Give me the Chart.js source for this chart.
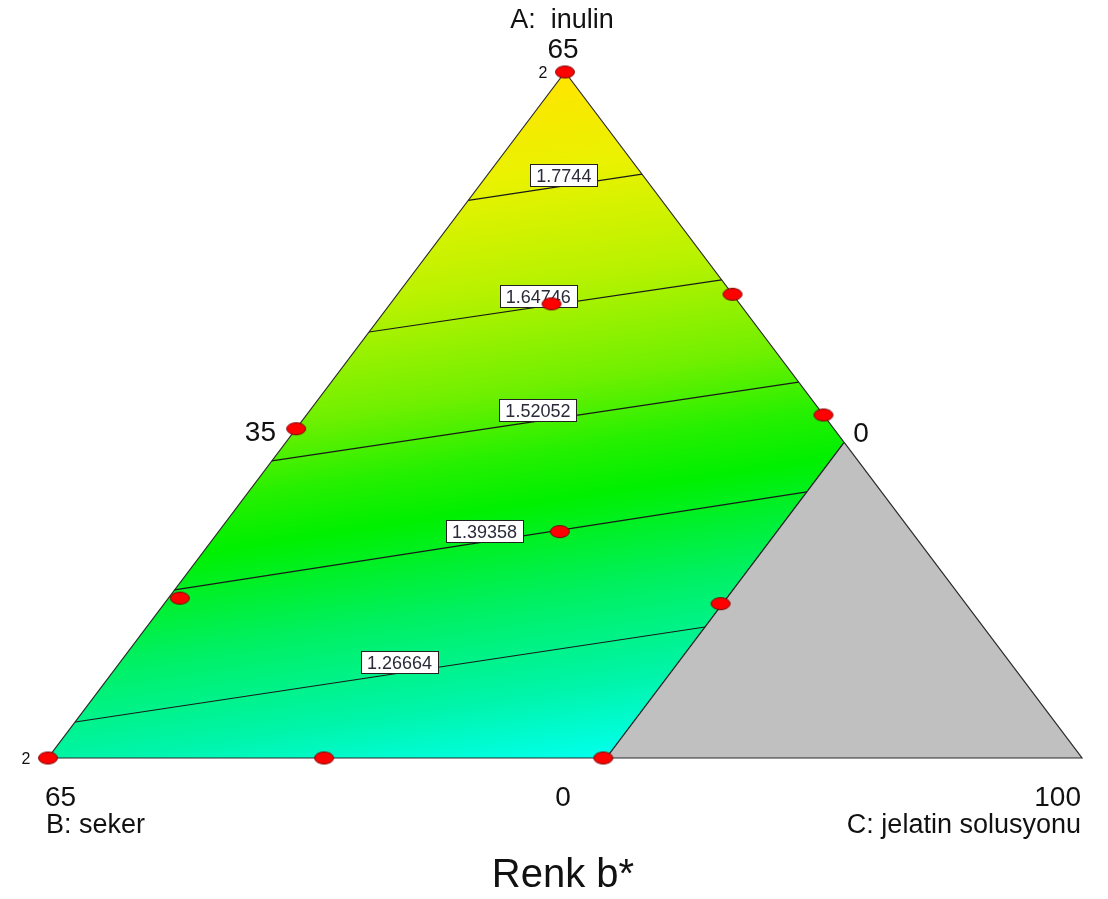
<!DOCTYPE html>
<html>
<head>
<meta charset="utf-8">
<title>Renk b*</title>
<script src="https://cdn.jsdelivr.net/npm/chart.js@4.4.1/dist/chart.umd.min.js"></script>
<style>
  html, body { margin: 0; padding: 0; background: #fff; }
  #wrap { width: 1108px; height: 899px; position: relative; }
</style>
</head>
<body>
<div id="wrap"><canvas id="chart-renk"></canvas></div>
<script>
// bilesenler (pseudo, 0..1): A = inulin, B = seker, C = jelatin solusyonu
const regionA = [1, 0, 0, 0.46];
const regionB = [0, 1, 0.46, 0];
const regionC = [0, 0, 0.54, 0.54];

// gri (uygun olmayan) bolge
const greyA = [0.46, 0, 0];
const greyB = [0, 0, 0.46];
const greyC = [0.54, 1, 0.54];

// tasarim noktalari
const designA = [1, 0.676, 0.662, 0.5, 0.48, 0.33, 0.233, 0.225, 0, 0, 0];
const designB = [0, 0, 0.182, 0, 0.52, 0.34, 0.756, 0.237, 1, 0.733, 0.463];
const designC = [0, 0.324, 0.156, 0.5, 0, 0.33, 0.011, 0.538, 0, 0.267, 0.537];
const designCount = [2, 1, 1, 1, 1, 1, 1, 1, 2, 1, 1];

// kontur cizgileri
const contourLevels = ["1.7744", "1.64746", "1.52052", "1.39358", "1.26664"];
const contourStartA = [0.813, 0.621, 0.433, 0.245, 0.0525]; // A-B kenari (C = 0)
const contourEndA = [0.851, 0.697, 0.548, 0.388, 0.191];
const contourEndC = [0.149, 0.303, 0.452, 0.54, 0.54];
const contourLabelAt = [0.55, 0.48, 0.505, 0.49, 0.515];

// eksen yazilari
const axisNames = ["A:  inulin", "B: seker", "C: jelatin solusyonu"];
const tickTexts = ["65", "35", "0", "65", "0", "100"];
const chartTitle = "Renk b*";

/** ternary -> x/y (0..1) */
function toXY(a, b, c) {
  const s = a + b + c || 1;
  return { x: (c + a / 2) / s, y: a / s };
}

function polygon(as, bs, cs) {
  const pts = as.map((a, i) => toXY(a, bs[i], cs[i]));
  pts.push(pts[0]);
  return pts;
}

/** kirmizi elips nokta */
function makeMarker() {
  const cv = document.createElement("canvas");
  cv.width = 22;
  cv.height = 15;
  const c = cv.getContext("2d");
  c.beginPath();
  c.ellipse(11, 7.5, 9.5, 6, 0, 0, Math.PI * 2);
  c.fillStyle = "#ff0000";
  c.fill();
  c.lineWidth = 1;
  c.strokeStyle = "#7a0000";
  c.stroke();
  return cv;
}

function regionGradient(ctx) {
  const chart = ctx.chart;
  const area = chart.chartArea;
  if (!area) return "#00f000";
  const cx = (area.left + area.right) / 2;
  const cy = (area.top + area.bottom) / 2;
  const nx = 0.148, ny = 0.989;
  const L = (area.bottom - area.top) / 2 - 4;
  const g = chart.ctx.createLinearGradient(cx - nx * L, cy - ny * L, cx + nx * L, cy + ny * L);
  g.addColorStop(0, "#ffe400");
  g.addColorStop(0.14, "#eaf200");
  g.addColorStop(0.3, "#b8f200");
  g.addColorStop(0.45, "#70f000");
  g.addColorStop(0.55, "#24f000");
  g.addColorStop(0.62, "#00f000");
  g.addColorStop(0.76, "#00f060");
  g.addColorStop(0.9, "#00f5aa");
  g.addColorStop(1, "#00ffe8");
  return g;
}

const contourSets = contourLevels.map((lvl, i) => ({
  label: lvl,
  data: [
    toXY(contourStartA[i], 1 - contourStartA[i], 0),
    toXY(contourEndA[i], 1 - contourEndA[i] - contourEndC[i], contourEndC[i]),
  ],
  showLine: true,
  pointRadius: 0,
  borderColor: "#1a1a1a",
  borderWidth: 1.2,
  fill: false,
  order: 3,
}));

const designPoints = designA.map((a, i) => toXY(a, designB[i], designC[i]));

const labelPlugin = {
  id: "ternaryLabels",
  // kutular noktalardan once cizilsin
  beforeDatasetDraw(chart, args) {
    if (args.index !== chart.data.datasets.length - 1) return;
    const ctx = chart.ctx;
    const xs = chart.scales.x;
    const ys = chart.scales.y;
    ctx.save();
    ctx.font = "18px 'Liberation Sans', Arial, sans-serif";
    ctx.textAlign = "center";
    ctx.textBaseline = "alphabetic";
    contourSets.forEach((ds, i) => {
      const p0 = ds.data[0];
      const p1 = ds.data[1];
      const t = contourLabelAt[i];
      const px = xs.getPixelForValue(p0.x + (p1.x - p0.x) * t);
      const py = ys.getPixelForValue(p0.y + (p1.y - p0.y) * t);
      const w = Math.round(ctx.measureText(contourLevels[i]).width + 12);
      const h = 22;
      const bx = Math.round(px - w / 2) + 0.5;
      const by = Math.round(py - h) + 0.5;
      ctx.fillStyle = "#ffffff";
      ctx.fillRect(bx, by, w, h);
      ctx.strokeStyle = "#222";
      ctx.lineWidth = 1;
      ctx.strokeRect(bx, by, w, h);
      ctx.fillStyle = "#2a2a3a";
      ctx.fillText(contourLevels[i], px, py - 4);
    });
    ctx.restore();
  },
  afterDraw(chart) {
    const ctx = chart.ctx;
    const area = chart.chartArea;
    const xs = chart.scales.x;
    const ys = chart.scales.y;
    const apexX = xs.getPixelForValue(0.5);
    const midX = (area.left + area.right) / 2;
    ctx.save();
    ctx.fillStyle = "#111";
    ctx.textBaseline = "alphabetic";

    // tekrar sayilari
    ctx.font = "16px 'Liberation Sans', Arial, sans-serif";
    ctx.textAlign = "center";
    designPoints.forEach((p, i) => {
      if (designCount[i] < 2) return;
      const px = xs.getPixelForValue(p.x);
      const py = ys.getPixelForValue(p.y);
      ctx.fillText(String(designCount[i]), px - 22, py + 6);
    });

    ctx.font = "27px 'Liberation Sans', Arial, sans-serif";
    ctx.textAlign = "center";
    ctx.fillText(axisNames[0], apexX - 3, 28);
    ctx.textAlign = "left";
    ctx.fillText(axisNames[1], area.left - 2, 833);
    ctx.textAlign = "right";
    ctx.fillText(axisNames[2], area.right - 1, 833);

    ctx.font = "28px 'Liberation Sans', Arial, sans-serif";
    ctx.textAlign = "center";
    ctx.fillText(tickTexts[0], apexX - 2, area.top - 14);
    ctx.textAlign = "right";
    ctx.fillText(tickTexts[1], 276, 441);
    ctx.textAlign = "center";
    ctx.fillText(tickTexts[2], 861, 442);
    ctx.textAlign = "left";
    ctx.fillText(tickTexts[3], area.left - 3, 806);
    ctx.textAlign = "center";
    ctx.fillText(tickTexts[4], midX - 2, 806);
    ctx.textAlign = "right";
    ctx.fillText(tickTexts[5], area.right - 1, 806);

    ctx.font = "40px 'Liberation Sans', Arial, sans-serif";
    ctx.textAlign = "center";
    ctx.fillText(chartTitle, midX - 2, 887);
    ctx.restore();
  },
};

const datasets = [
  {
    label: "bolge",
    data: polygon(regionA, regionB, regionC),
    showLine: true,
    pointRadius: 0,
    borderColor: "#2a2a2a",
    borderWidth: 1.2,
    backgroundColor: regionGradient,
    fill: "shape",
    order: 10,
  },
  {
    label: "gri",
    data: polygon(greyA, greyB, greyC),
    showLine: true,
    pointRadius: 0,
    borderColor: "#2a2a2a",
    borderWidth: 1.2,
    backgroundColor: "#c0c0c0",
    fill: "shape",
    order: 9,
  },
  ...contourSets,
  {
    label: "tasarim",
    data: designPoints,
    showLine: false,
    pointStyle: makeMarker(),
    pointRadius: 10,
    order: 1,
  },
];

const canvas = document.getElementById("chart-renk");
new Chart(canvas.getContext("2d"), {
  type: "scatter",
  data: { datasets },
  options: {
    responsive: true,
    maintainAspectRatio: false,
    animation: false,
    events: [],
    layout: {
      autoPadding: false,
      padding: { left: 48, right: 26, top: 72, bottom: 141 },
    },
    scales: {
      x: { type: "linear", min: 0, max: 1, display: false },
      y: { type: "linear", min: 0, max: 1, display: false },
    },
    elements: { line: { tension: 0 } },
    datasets: { scatter: { clip: false } },
    plugins: {
      legend: { display: false },
      tooltip: { enabled: false },
    },
  },
  plugins: [labelPlugin],
});
</script>
</body>
</html>
